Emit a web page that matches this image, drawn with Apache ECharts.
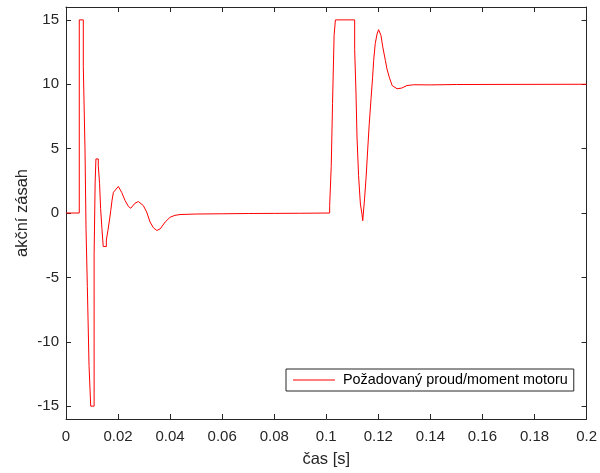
<!DOCTYPE html>
<html>
<head>
<meta charset="utf-8">
<script src="https://cdn.jsdelivr.net/npm/echarts@6/dist/echarts.min.js"></script>
<style>html,body{margin:0;padding:0;background:#fff}#c{width:600px;height:473px}</style>
</head>
<body>
<div id="c"></div>
<script>
// time [s]
const timeS = [
  0, 0.0051, 0.0051, 0.00665, 0.00665, 0.0073, 0.0073, 0.0077, 0.0077, 0.0082, 0.0082,
  0.00885, 0.00885, 0.0095, 0.0095, 0.0108, 0.0108, 0.0112, 0.0112, 0.0115, 0.0115,
  0.0124, 0.0124, 0.0129, 0.0129, 0.0133, 0.0133, 0.0138, 0.0138, 0.0143, 0.0143,
  0.0155, 0.0155, 0.0161, 0.0161, 0.0166, 0.0166, 0.0172, 0.0172, 0.0177, 0.0177,
  0.0182, 0.0182, 0.0188,
  0.0201, 0.0214, 0.0227, 0.024, 0.0249, 0.0265, 0.0278, 0.0297, 0.031, 0.0323,
  0.0336, 0.0349, 0.0362, 0.0381, 0.04, 0.0419, 0.0438, 0.05, 0.06, 0.07, 0.08, 0.09,
  0.1013, 0.1013, 0.1019, 0.1019, 0.1024, 0.1024, 0.103, 0.103, 0.1035, 0.1035,
  0.1109, 0.1109, 0.1114, 0.1114, 0.1118, 0.1118, 0.1124, 0.1124, 0.1131, 0.1131,
  0.1137, 0.1137, 0.114, 0.114, 0.1147, 0.1147, 0.1153, 0.1153, 0.1159, 0.1159,
  0.1165, 0.1165, 0.1172, 0.1172, 0.1178, 0.1178, 0.1182, 0.1182, 0.1188, 0.1188,
  0.1195, 0.1195, 0.1201, 0.1201,
  0.121, 0.1217, 0.1227, 0.1233, 0.1242, 0.1253, 0.1272, 0.1289, 0.131, 0.1336,
  0.14, 0.15, 0.2
];
// akční zásah
const action = [
  0, 0, 15, 15, 11.4, 11.4, 4.9, 4.9, -1.3, -1.3, -5.7,
  -5.7, -11.85, -11.85, -15, -15, -3.2, -3.2, 2.4, 2.4, 4.2,
  4.2, 3.7, 3.7, 2.3, 2.3, 0.35, 0.35, -1.2, -1.2, -2.6,
  -2.6, -2.1, -2.1, -1.36, -1.36, -0.7, -0.7, 0.2, 0.2, 1.0,
  1.0, 1.6, 1.6,
  2.06, 1.6, 0.97, 0.5, 0.37, 0.76, 0.89, 0.58, 0.07, -0.7,
  -1.15, -1.36, -1.23, -0.7, -0.33, -0.18, -0.12, -0.08, -0.06, -0.04, -0.03, -0.02,
  0, 0.6, 0.6, 3.6, 3.6, 8.5, 8.5, 13.8, 13.8, 15,
  15, 12.7, 12.7, 9.4, 9.4, 5.9, 5.9, 2.9, 2.9, 0.7,
  0.7, -0.07, -0.07, -0.6, -0.6, 1.1, 1.1, 2.8, 2.8, 4.9,
  4.9, 6.9, 6.9, 8.9, 8.9, 10.55, 10.55, 11.85, 11.85, 13.15,
  13.15, 13.9, 13.9, 14.24,
  13.8, 12.9, 11.85, 11.2, 10.55, 9.9, 9.65, 9.7, 9.9, 9.96,
  9.95, 9.98, 10
];
const yTicks = [-15, -10, -5, 0, 5, 10, 15];
const seriesName = 'Požadovaný proud/moment motoru';

const axisColor = '#262626';
const font = 'Liberation Sans, Arial, sans-serif';
const data = timeS.map((t, i) => [t, action[i]]);

const chart = echarts.init(document.getElementById('c'), null, {renderer: 'canvas'});
const xBase = {
  type: 'value', min: 0, max: 0.2, interval: 0.02,
  axisLine: {show: true, onZero: false, lineStyle: {color: axisColor, width: 1}},
  axisTick: {show: true, inside: true, length: 5, lineStyle: {color: axisColor}},
  splitLine: {show: false}
};
const yBase = {
  type: 'value', min: -16, max: 16,
  axisLine: {show: true, onZero: false, lineStyle: {color: axisColor, width: 1}},
  axisTick: {show: true, inside: true, length: 5, customValues: yTicks, lineStyle: {color: axisColor}},
  splitLine: {show: false}
};
chart.setOption({
  animation: false,
  backgroundColor: '#fff',
  grid: {left: 66, right: 13, top: 7, bottom: 54, containLabel: false},
  xAxis: [
    Object.assign({}, xBase, {
      position: 'bottom',
      name: 'čas [s]', nameLocation: 'middle', nameGap: 32, nameMoveOverlap: false,
      nameTextStyle: {color: axisColor, fontFamily: font, fontSize: 16.5},
      axisLabel: {show: true, color: axisColor, fontFamily: font, fontSize: 15, margin: 10,
        formatter: v => String(+v.toFixed(2))}
    }),
    Object.assign({}, xBase, {position: 'top', axisLabel: {show: false}})
  ],
  yAxis: [
    Object.assign({}, yBase, {
      position: 'left',
      name: 'akční zásah', nameLocation: 'middle', nameGap: 35, nameMoveOverlap: false,
      nameTextStyle: {color: axisColor, fontFamily: font, fontSize: 16.5},
      axisLabel: {show: true, color: axisColor, fontFamily: font, fontSize: 15, margin: 7,
        customValues: yTicks}
    }),
    Object.assign({}, yBase, {position: 'right', axisLabel: {show: false}})
  ],
  legend: {
    show: true, left: 286, top: 369,
    orient: 'horizontal',
    borderColor: axisColor, borderWidth: 1, borderRadius: 0,
    backgroundColor: '#fff',
    padding: [4, 6, 4, 7],
    icon: 'rect', itemWidth: 42, itemHeight: 1.2, itemGap: 0,
    textStyle: {color: '#000', fontFamily: font, fontSize: 14.4, lineHeight: 14, padding: [0, 0, 0, 3]},
    data: [seriesName]
  },
  series: [{
    name: seriesName, type: 'line', data: data,
    xAxisIndex: 0, yAxisIndex: 0,
    symbol: 'none', showSymbol: false,
    lineStyle: {color: '#ff0000', width: 1},
    itemStyle: {color: '#ff0000'},
    color: '#ff0000'
  }]
});
</script>
</body>
</html>
